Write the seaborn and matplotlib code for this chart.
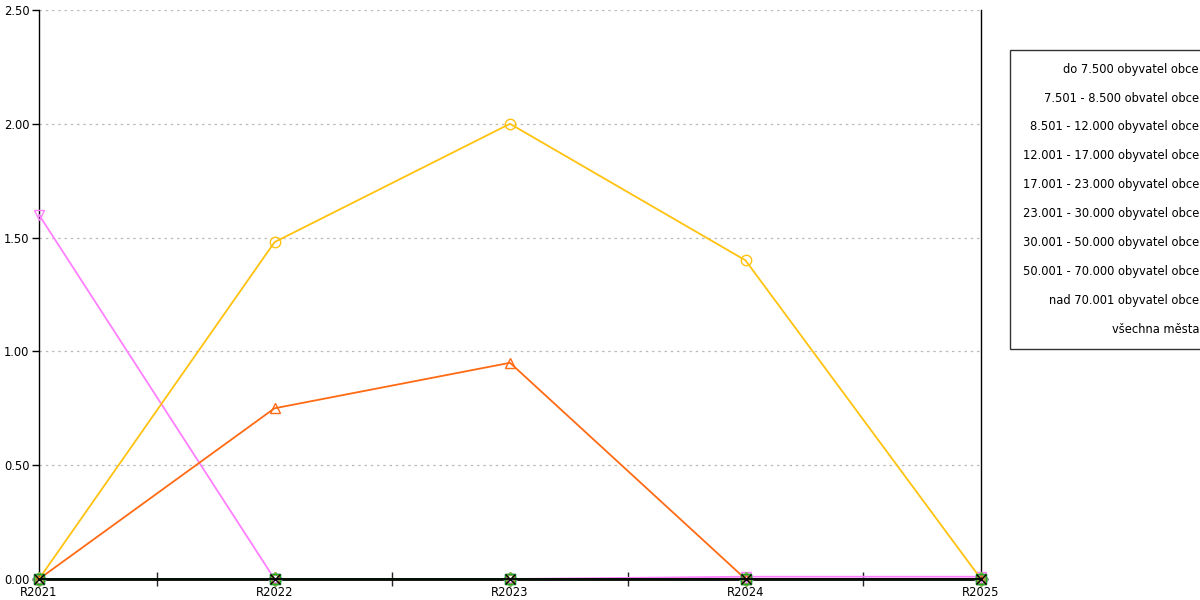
import matplotlib
matplotlib.use("Agg")
import matplotlib.pyplot as plt
import seaborn as sns
import pandas as pd
from matplotlib.lines import Line2D
from matplotlib.ticker import MultipleLocator, FixedLocator, FormatStrFormatter

years = ["R2021", "R2022", "R2023", "R2024", "R2025"]

series_names = [
    "do 7.500 obyvatel obce",
    "7.501 - 8.500 obvatel obce",
    "8.501 - 12.000 obyvatel obce",
    "12.001 - 17.000 obyvatel obce",
    "17.001 - 23.000 obyvatel obce",
    "23.001 - 30.000 obyvatel obce",
    "30.001 - 50.000 obyvatel obce",
    "50.001 - 70.000 obyvatel obce",
    "nad 70.001 obyvatel obce",
    "všechna města",
]

v_do7500 = [0.0, 1.48, 2.00, 1.40, 0.0]
v_7501 = [0.0, 0.75, 0.95, 0.0, 0.0]
v_8501 = [1.60, 0.0, 0.0, 0.01, 0.01]
v_12001 = [0.0, 0.0, 0.0, 0.0, 0.0]
v_17001 = [0.0, 0.0, 0.0, 0.0, 0.0]
v_23001 = [0.0, 0.0, 0.0, 0.0, 0.0]
v_30001 = [0.0, 0.0, 0.0, 0.0, 0.0]
v_50001 = [0.0, 0.0, 0.0, 0.0, 0.0]
v_nad70001 = [0.0, 0.0, 0.0, 0.0, 0.0]
v_vsechna = [0.0, 0.0, 0.0, 0.0, 0.0]

values = [v_do7500, v_7501, v_8501, v_12001, v_17001, v_23001,
          v_30001, v_50001, v_nad70001, v_vsechna]

colors = ["#FFC20E", "#FF6A13", "#FF7FFF", "#8E8E8E", "#3F7FBF",
          "#9966CC", "#E05050", "#7FBF3F", "#22AA22", "#000000"]
markers = ["o", "^", "v", "D", "s", "p", "h", "d", "s", "x"]

rows = []
for name, vals in zip(series_names, values):
    for i, v in enumerate(vals):
        rows.append({"rok": i, "serie": name, "hodnota": v})
df = pd.DataFrame(rows)

sns.set_style("white")
plt.rcParams["font.family"] = ["DejaVu Sans"]

fig = plt.figure(figsize=(12, 6), dpi=100)
ax = fig.add_axes([39 / 1200, 1 - 579 / 600, (981 - 39) / 1200, (579 - 10) / 600])

order = series_names[:3][::-1] + series_names[3:]
for name in order:
    idx = series_names.index(name)
    sub = df[df["serie"] == name]
    sns.lineplot(data=sub, x="rok", y="hodnota", ax=ax, color=colors[idx],
                 marker=markers[idx], markersize=7.5, fillstyle="none",
                 markeredgecolor=colors[idx], markeredgewidth=1.0,
                 linewidth=1.3, clip_on=False, legend=False, zorder=3)

ax.set_xlim(0, 4)
ax.set_ylim(0, 2.5)
ax.set_xlabel("")
ax.set_ylabel("")
ax.set_xticks(range(len(years)))
ax.set_xticklabels(years)
ax.xaxis.set_minor_locator(FixedLocator([0.5, 1.5, 2.5, 3.5]))
ax.yaxis.set_major_locator(MultipleLocator(0.5))
ax.yaxis.set_major_formatter(FormatStrFormatter("%.2f"))

ax.tick_params(axis="x", which="major", length=0, labelsize=8.3, pad=5, colors="#000000")
ax.tick_params(axis="x", which="minor", length=10, direction="inout", width=1, bottom=True)
ax.tick_params(axis="y", which="major", length=5, direction="out", width=1,
               labelsize=8.3, pad=2, left=True, colors="#000000")

ax.grid(axis="y", color="#BBBBBB", linestyle=(0, (2, 3)), linewidth=0.9)
ax.grid(axis="x", visible=False)
ax.set_axisbelow(True)

ax.spines["top"].set_visible(False)
ax.spines["right"].set_visible(True)
for s in ("left", "right", "bottom"):
    ax.spines[s].set_color("black")
ax.spines["left"].set_linewidth(1)
ax.spines["right"].set_linewidth(1)
ax.spines["bottom"].set_linewidth(2)
ax.spines["bottom"].set_zorder(2.5)

handles = [Line2D([], [], linestyle="none", marker=None) for _ in series_names]
leg = fig.legend(handles, series_names, loc="upper left",
                 bbox_to_anchor=(1010 / 1200, 1 - 50 / 600),
                 bbox_transform=fig.transFigure,
                 frameon=True, fancybox=False, shadow=False,
                 handlelength=0, handletextpad=0, markerfirst=False,
                 fontsize=8.3, labelspacing=1.38, borderpad=1.1,
                 borderaxespad=0)
leg.get_frame().set_edgecolor("black")
leg.get_frame().set_linewidth(1)
for t in leg.get_texts():
    t.set_color("black")

fig.savefig("out.png", dpi=100)
